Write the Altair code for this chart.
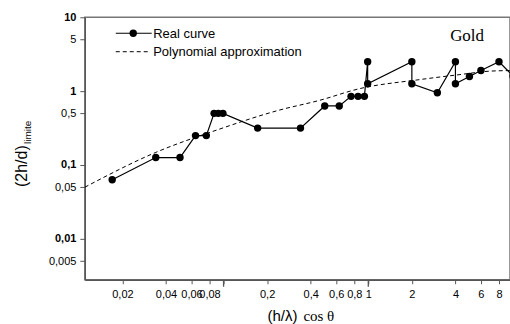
import altair as alt
import pandas as pd

# Real curve
real_x = [0.017, 0.034, 0.050, 0.064, 0.076, 0.086, 0.092, 0.099, 0.172, 0.34,
          0.50, 0.63, 0.76, 0.85, 0.94, 0.99, 0.99, 2.0, 2.0, 3.0,
          4.0, 4.0, 5.0, 6.0, 8.0, 10.0]
real_y = [0.063, 0.126, 0.126, 0.25, 0.25, 0.50, 0.50, 0.50, 0.316, 0.316,
          0.63, 0.63, 0.85, 0.85, 0.85, 2.5, 1.26, 2.5, 1.26, 0.95,
          2.5, 1.26, 1.58, 1.9, 2.5, 1.6]

# Polynomial approximation
poly_x = [0.011, 0.034, 0.091, 0.24, 0.46, 0.87, 2.25, 4.24, 6.8, 9.6]
poly_y = [0.050, 0.148, 0.30, 0.55, 0.75, 1.08, 1.43, 1.67, 1.86, 1.90]

x_ticks = [0.02, 0.04, 0.06, 0.08, 0.1, 0.2, 0.4, 0.6, 0.8, 1, 2, 4, 6, 8]
x_major = [0.1, 1]
y_ticks = [10, 5, 1, 0.5, 0.1, 0.05, 0.01, 0.005]

real_df = pd.DataFrame({"x": real_x, "y": real_y, "i": list(range(len(real_x)))})
poly_df = pd.DataFrame({"x": poly_x, "y": poly_y, "i": list(range(len(poly_x)))})
major_df = pd.DataFrame({"x": x_major})
one = pd.DataFrame({"a": [0]})

W, H = 426, 263
FONT = "Liberation Sans"
SERIF = "Liberation Serif"

xscale = alt.Scale(type="log", domain=[0.011, 9.53], nice=False)
yscale = alt.Scale(type="log", domain=[0.00279, 10], nice=False)

xaxis = alt.Axis(values=x_ticks, title=None, grid=False, tickSize=4, labelPadding=5,
                 labelFont=FONT, labelFontSize=11, labelColor="black",
                 labelOverlap=False, labelFlush=False,
                 labelExpr="datum.value == 0.1 ? '' : replace(toString(datum.value), '.', ',')",
                 domainColor="#555", domainWidth=1.3, tickColor="#555")
yaxis = alt.Axis(values=y_ticks, title=None, grid=False, tickSize=5, labelPadding=4,
                 labelFont=FONT, labelFontSize=11, labelColor="black",
                 labelOverlap=False, labelFlush=False,
                 labelFontWeight={"condition": {"test": "datum.value == 10 || datum.value == 1 || datum.value == 0.1 || datum.value == 0.01", "value": "bold"}, "value": "normal"},
                 labelExpr="replace(toString(datum.value), '.', ',')",
                 domainColor="#555", domainWidth=1.3, tickColor="#555")

X = alt.X("x:Q", scale=xscale, axis=xaxis)
Y = alt.Y("y:Q", scale=yscale, axis=yaxis)

real_line = alt.Chart(real_df).mark_line(color="black", strokeWidth=1.2, clip=True).encode(
    x=X, y=Y, order="i:Q")
real_pts = alt.Chart(real_df).mark_circle(color="black", size=55, opacity=1, clip=True).encode(
    x=X, y=Y)
poly_line = alt.Chart(poly_df).mark_line(color="black", strokeWidth=1, strokeDash=[4, 3],
                                         interpolate="monotone", clip=True).encode(
    x=X, y=Y, order="i:Q")
major_ticks = alt.Chart(major_df).mark_rule(color="#555", strokeWidth=1.3).encode(
    x=X, y=alt.value(H), y2=alt.value(H + 7))

# legend
leg_line = alt.Chart(one).mark_rule(color="black", strokeWidth=1.2).encode(
    x=alt.value(31), x2=alt.value(67), y=alt.value(16))
leg_dot = alt.Chart(one).mark_circle(color="black", size=55, opacity=1).encode(
    x=alt.value(48.5), y=alt.value(16))
leg_dash = alt.Chart(one).mark_rule(color="black", strokeWidth=1, strokeDash=[4, 3]).encode(
    x=alt.value(31), x2=alt.value(64), y=alt.value(34.5))
leg_t1 = alt.Chart(one).mark_text(text="Real curve", align="left", baseline="alphabetic",
                                  font=FONT, fontSize=13, color="black").encode(
    x=alt.value(68.5), y=alt.value(20.5))
leg_t2 = alt.Chart(one).mark_text(text="Polynomial approximation", align="left", baseline="alphabetic",
                                  font=FONT, fontSize=13, color="black").encode(
    x=alt.value(68.5), y=alt.value(39))
gold = alt.Chart(one).mark_text(text="Gold", align="center", baseline="alphabetic",
                                font=SERIF, fontSize=17, color="black").encode(
    x=alt.value(383), y=alt.value(24))

# axis titles
xt1 = alt.Chart(one).mark_text(text="(h/λ)", align="left", baseline="alphabetic",
                               font=FONT, fontSize=15, color="black").encode(
    x=alt.value(183), y=alt.value(304))
xt2 = alt.Chart(one).mark_text(text="cos θ", align="left", baseline="alphabetic",
                               font=SERIF, fontSize=15, color="black").encode(
    x=alt.value(219), y=alt.value(304))
yt1 = alt.Chart(one).mark_text(text="(2h/d)", align="left", baseline="alphabetic", angle=270,
                               font=FONT, fontSize=16, color="black").encode(
    x=alt.value(-58), y=alt.value(170))
yt2 = alt.Chart(one).mark_text(text="limite", align="left", baseline="alphabetic", angle=270,
                               font=FONT, fontSize=10, color="black").encode(
    x=alt.value(-54), y=alt.value(127))

chart = alt.layer(
    poly_line, real_line, real_pts, major_ticks,
    leg_line, leg_dot, leg_dash, leg_t1, leg_t2, gold, xt1, xt2, yt1, yt2
).properties(
    width=W, height=H,
    autosize=alt.AutoSizeParams(type="none"),
    padding={"left": 85, "top": 17, "right": 0, "bottom": 44},
    background="white",
).configure_view(stroke="#777", strokeWidth=1.5)

chart.save("out.html", embed_options={"renderer": "svg", "actions": False})
